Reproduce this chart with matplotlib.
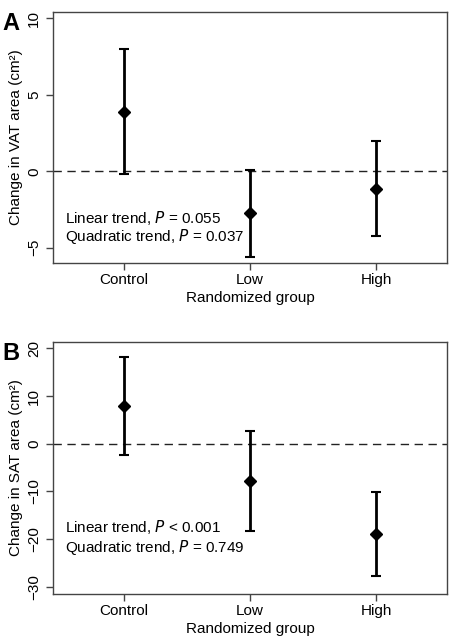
import matplotlib
matplotlib.use('Agg')
import matplotlib.pyplot as plt

plt.rcParams['font.family'] = ['Liberation Sans', 'DejaVu Sans']

groups = ['Control', 'Low', 'High']

vat_mean = [3.9, -2.7, -1.15]
vat_low = [-0.15, -5.6, -4.25]
vat_high = [8.0, 0.1, 2.0]

sat_mean = [7.9, -7.8, -18.9]
sat_low = [-2.4, -18.3, -27.7]
sat_high = [18.1, 2.7, -10.1]

fig = plt.figure(figsize=(4.5, 6.4), dpi=100)
axA = fig.add_axes([0.118, 0.589, 0.875, 0.392])
axB = fig.add_axes([0.118, 0.072, 0.875, 0.394])


def panel(ax, mean, lo, hi, ylab, ylim, yticks, txt1, txt2, ty, letter):
    x = [1, 2, 3]
    err = [[m - l for m, l in zip(mean, lo)], [h - m for m, h in zip(mean, hi)]]
    ax.axhline(0, color='#222222', lw=1, ls=(0, (6, 4)), zorder=1)
    ax.errorbar(x, mean, yerr=err, fmt='D', color='black', ms=6,
                elinewidth=2, capsize=3.5, capthick=1.5, zorder=3)
    ax.set_xlim(0.44, 3.56)
    ax.set_ylim(*ylim)
    ax.set_xticks(x)
    ax.set_xticklabels(groups, fontsize=11)
    ax.set_yticks(yticks)
    ax.set_yticklabels([str(t).replace('-', '\u2212') for t in yticks],
                       rotation=90, va='center', fontsize=11)
    ax.set_xlabel('Randomized group', fontsize=11, labelpad=3)
    ax.set_ylabel(ylab, fontsize=11, labelpad=3)
    for s in ax.spines.values():
        s.set_color('#444444')
        s.set_linewidth(1)
    ax.tick_params(direction='out', length=5, color='#444444', width=1)
    ax.tick_params(axis='x', pad=2)
    ax.text(0.03, ty[0], txt1, transform=ax.transAxes, fontsize=11, va='center')
    ax.text(0.03, ty[1], txt2, transform=ax.transAxes, fontsize=11, va='center')
    ax.text(-0.13, 1.0, letter, transform=ax.transAxes, fontsize=17,
            fontweight='bold', va='top', ha='left')


panel(axA, vat_mean, vat_low, vat_high, 'Change in VAT area (cm\u00b2)',
      (-6, 10.4), [-5, 0, 5, 10],
      'Linear trend, $\\it{P}$ = 0.055', 'Quadratic trend, $\\it{P}$ = 0.037',
      (0.18, 0.105), 'A')
panel(axB, sat_mean, sat_low, sat_high, 'Change in SAT area (cm\u00b2)',
      (-31.5, 21.4), [-30, -20, -10, 0, 10, 20],
      'Linear trend, $\\it{P}$ < 0.001', 'Quadratic trend, $\\it{P}$ = 0.749',
      (0.266, 0.183), 'B')

fig.savefig('out.png', dpi=100)
